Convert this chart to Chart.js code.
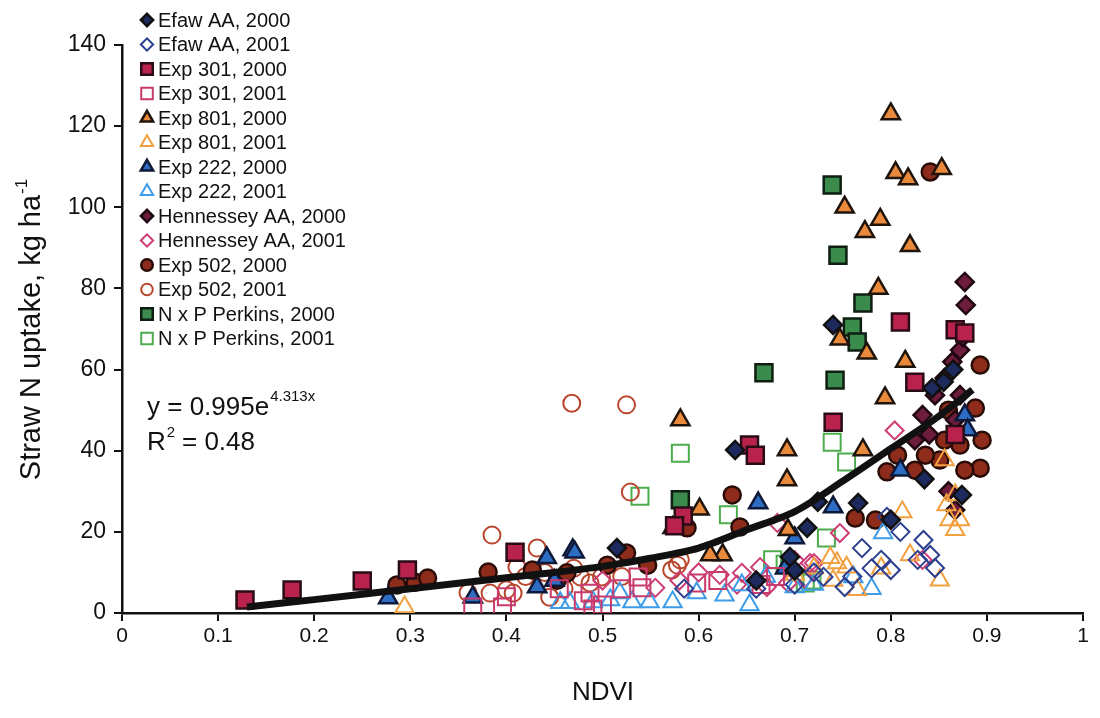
<!DOCTYPE html>
<html>
<head>
<meta charset="utf-8">
<script src="https://cdn.jsdelivr.net/npm/chart.js@4.4.1/dist/chart.umd.min.js"></script>
<style>
    html, body { margin: 0; padding: 0; background: #fff; }
</style>
</head>
<body>
<canvas id="ndviChart" width="1100" height="718"></canvas>
<script>
// ---- data: [NDVI, straw N uptake kg/ha] ----
const efaw2000 = [[0.515,16],[0.638,40.2],[0.740,71],[0.695,13.8],[0.713,21],[0.724,27.4],[0.766,27.1],
    [0.843,55.4],[0.855,57],[0.874,29.1],[0.865,60],[0.835,33],[0.80,23],[0.70,10.5],[0.66,8]];
const efaw2001 = [[0.73,8.9],[0.752,6.4],[0.79,13.1],[0.80,10.6],[0.796,23.7],[0.834,18],[0.841,14.3],
    [0.846,11.1],[0.828,13.1],[0.78,11],[0.76,9],[0.72,10],[0.70,7],[0.66,6],[0.585,6],[0.81,20],[0.77,16]];
const exp301_2000 = [[0.128,3.2],[0.177,5.7],[0.25,7.9],[0.297,10.6],[0.409,15],[0.653,41.4],[0.659,38.9],
    [0.584,23.9],[0.575,21.5],[0.74,47],[0.81,71.7],[0.825,56.9],[0.867,69.8],[0.877,69],[0.867,44]];
const exp301_2001 = [[0.365,1.5],[0.396,1.5],[0.40,4],[0.487,4.9],[0.49,1],[0.537,8.9],[0.541,6.2],[0.598,7.4],
    [0.48,3],[0.50,2],[0.62,8],[0.665,7],[0.68,9],[0.455,6],[0.52,6]];
const exp801_2000 = [[0.80,123],[0.805,108.5],[0.818,107],[0.853,109.5],[0.752,100],[0.789,97],[0.773,94],
    [0.82,90.5],[0.787,80],[0.815,62],[0.747,67.5],[0.775,64],[0.794,53],[0.771,40.2],[0.581,47.6],[0.601,25.6],
    [0.573,21],[0.692,40.2],[0.692,32.8],[0.693,20.5],[0.625,14.3],[0.612,14.3]];
const exp801_2001 = [[0.294,1.5],[0.737,13.6],[0.744,12.3],[0.754,11.3],[0.765,5.7],[0.812,24.9],[0.82,14.3],
    [0.851,8.1],[0.858,26.6],[0.861,22.9],[0.867,20.5],[0.872,22.9],[0.867,29.1],[0.856,37.7],[0.70,9.5],
    [0.72,11],[0.74,8],[0.79,11]];
const exp222_2000 = [[0.277,3.7],[0.365,3.9],[0.432,6.4],[0.442,13.6],[0.469,15.5],[0.471,15],[0.662,27.1],
    [0.70,18.5],[0.74,26.1],[0.81,35.2],[0.877,48.8],[0.88,45.1],[0.45,8],[0.69,11]];
const exp222_2001 = [[0.456,2.5],[0.466,2.5],[0.49,2.7],[0.508,3.2],[0.518,4.9],[0.531,2.7],[0.549,2.7],
    [0.573,2.7],[0.598,4.9],[0.627,4.4],[0.645,6.9],[0.653,2],[0.70,6.4],[0.761,8.9],[0.792,19.7],[0.67,9],
    [0.72,7],[0.78,6]];
const henn2000 = [[0.878,75.9],[0.877,81.6],[0.872,64.8],[0.875,68],[0.864,61.9],[0.856,57.9],[0.872,53.7],
    [0.846,53.7],[0.867,47.6],[0.833,48.8],[0.825,42.6],[0.867,25.4],[0.86,30],[0.84,44]];
const henn2001 = [[0.622,9.4],[0.645,9.9],[0.664,11.3],[0.682,22.2],[0.716,12.3],[0.671,6.4],[0.693,7.4],
    [0.72,12.3],[0.747,19.7],[0.804,45],[0.555,6.2],[0.50,8],[0.58,8],[0.60,10],[0.70,13],[0.71,8.5],
    [0.833,13.1],[0.64,7]];
const exp502_2000 = [[0.286,6.9],[0.305,7.6],[0.318,8.6],[0.381,10.1],[0.427,10.6],[0.453,8.1],[0.463,9.9],
    [0.505,11.8],[0.525,14.8],[0.547,11.8],[0.588,21],[0.635,29.1],[0.643,21.2],[0.763,23.4],[0.784,22.9],
    [0.807,38.9],[0.796,34.8],[0.841,108.7],[0.893,61.1],[0.888,50.5],[0.895,42.6],[0.893,35.7],[0.872,41.4],
    [0.856,42.6],[0.851,37.7],[0.877,35.2],[0.836,38.9],[0.825,35.2],[0.86,50]];
const exp502_2001 = [[0.468,51.7],[0.525,51.3],[0.529,29.8],[0.385,19.2],[0.432,16],[0.411,11.3],[0.383,4.9],
    [0.40,5.7],[0.407,4.9],[0.445,3.9],[0.477,8.9],[0.487,7.4],[0.499,8.9],[0.572,10.6],[0.578,11.8],
    [0.581,13.1],[0.36,5],[0.44,10],[0.42,9],[0.46,6],[0.52,9],[0.47,11]];
const perkins2000 = [[0.739,105.5],[0.745,88.2],[0.771,76.4],[0.76,70.5],[0.765,66.8],[0.668,59.2],
    [0.742,57.4],[0.581,27.9]];
const perkins2001 = [[0.581,39.4],[0.539,28.8],[0.631,24.2],[0.739,42.1],[0.754,37.2],[0.677,13.1],
    [0.711,7.4],[0.733,18.5],[0.718,8.1],[0.69,12]];

// trend line as drawn in the figure
const trendX = [0.13, 0.2, 0.3, 0.4, 0.45, 0.5, 0.55, 0.6, 0.65, 0.7, 0.75, 0.8, 0.85, 0.885];
const trendY = [1.5, 3.3, 6, 8.7, 10, 11.5, 13.5, 16, 20.5, 25, 32.5, 40.5, 48.5, 55];

const xTicks = [0, 0.1, 0.2, 0.3, 0.4, 0.5, 0.6, 0.7, 0.8, 0.9, 1];
const yTicks = [0, 20, 40, 60, 80, 100, 120, 140];

const FONT = '"Liberation Sans", Arial, sans-serif';

function toPts(arr) {
    return arr.map(p => ({ x: p[0], y: p[1] }));
}

// label, values, marker, fill, border, radius
const series = [
    ['Efaw AA, 2000', efaw2000, 'rectRot', '#1d2a5e', '#111111', 9],
    ['Efaw AA, 2001', efaw2001, 'rectRot', 'rgba(0,0,0,0)', '#2c3f8e', 9],
    ['Exp 301, 2000', exp301_2000, 'rect', '#b8224c', '#2a0c16', 12],
    ['Exp 301, 2001', exp301_2001, 'rect', 'rgba(0,0,0,0)', '#c93a6c', 12],
    ['Exp 801, 2000', exp801_2000, 'triangle', '#e8893c', '#1e140c', 10.5],
    ['Exp 801, 2001', exp801_2001, 'triangle', 'rgba(0,0,0,0)', '#f2a040', 10.5],
    ['Exp 222, 2000', exp222_2000, 'triangle', '#2d6ec4', '#0e1838', 10.5],
    ['Exp 222, 2001', exp222_2001, 'triangle', 'rgba(0,0,0,0)', '#3d9ce8', 10.5],
    ['Hennessey AA, 2000', henn2000, 'rectRot', '#6e1c3c', '#200812', 9],
    ['Hennessey AA, 2001', henn2001, 'rectRot', 'rgba(0,0,0,0)', '#cc3d75', 9],
    ['Exp 502, 2000', exp502_2000, 'circle', '#8e2c1c', '#2a0c06', 8.5],
    ['Exp 502, 2001', exp502_2001, 'circle', 'rgba(0,0,0,0)', '#b9462c', 8.5],
    ['N x P Perkins, 2000', perkins2000, 'rect', '#3b8c4c', '#0e1e10', 12],
    ['N x P Perkins, 2001', perkins2001, 'rect', 'rgba(0,0,0,0)', '#4dad4d', 12]
];

const datasets = series.map(s => ({
    label: s[0],
    data: toPts(s[1]),
    pointStyle: s[2],
    backgroundColor: s[3],
    borderColor: s[4],
    pointBackgroundColor: s[3],
    pointBorderColor: s[4],
    pointBorderWidth: s[3] === 'rgba(0,0,0,0)' ? 2 : 2.5,
    pointRadius: s[5],
    pointHoverRadius: s[5],
    order: 2
}));

datasets.push({
    label: 'trend',
    type: 'line',
    data: trendX.map((x, i) => ({ x: x, y: trendY[i] })),
    borderColor: '#111',
    borderWidth: 7,
    pointRadius: 0,
    fill: false,
    tension: 0.3,
    order: 1
});

// legend, equation and axis titles drawn by hand so they sit where the figure has them
const annotations = {
    id: 'annotations',
    afterDraw(chart) {
        const ctx = chart.ctx;
        ctx.save();

        // legend
        ctx.font = '20px ' + FONT;
        ctx.textBaseline = 'middle';
        series.forEach((s, i) => {
            const y = 20 + i * 24.5;
            ctx.fillStyle = s[3];
            ctx.strokeStyle = s[4];
            ctx.lineWidth = s[3] === 'rgba(0,0,0,0)' ? 2 : 2.5;
            Chart.helpers.drawPoint(ctx, {
                pointStyle: s[2], radius: s[5] * 0.68, rotation: 0,
                borderWidth: ctx.lineWidth
            }, 147, y);
            ctx.fillStyle = '#111';
            ctx.fillText(s[0], 158, y + 1);
        });

        // equation
        ctx.textBaseline = 'alphabetic';
        ctx.fillStyle = '#111';
        ctx.font = '26px ' + FONT;
        const eq = 'y = 0.995e';
        ctx.fillText(eq, 147, 415);
        const w1 = ctx.measureText(eq).width;
        ctx.font = '15px ' + FONT;
        ctx.fillText('4.313x', 147 + w1 + 1, 401);
        ctx.font = '26px ' + FONT;
        ctx.fillText('R', 147, 450);
        const w2 = ctx.measureText('R').width;
        ctx.font = '15px ' + FONT;
        ctx.fillText('2', 147 + w2 + 1, 437);
        ctx.font = '26px ' + FONT;
        ctx.fillText(' = 0.48', 147 + w2 + 9, 450);

        // x title
        ctx.textAlign = 'center';
        ctx.font = '26px ' + FONT;
        ctx.fillText('NDVI', 603, 700);

        // y title with superscript
        ctx.translate(40, 330);
        ctx.rotate(-Math.PI / 2);
        ctx.textAlign = 'left';
        const main = 'Straw N uptake, kg ha';
        ctx.font = '29px ' + FONT;
        const wm = ctx.measureText(main).width;
        ctx.font = '17px ' + FONT;
        const ws = ctx.measureText('-1').width;
        const start = -(wm + ws) / 2;
        ctx.font = '29px ' + FONT;
        ctx.fillText(main, start, 0);
        ctx.font = '17px ' + FONT;
        ctx.fillText('-1', start + wm + 1, -13);

        ctx.restore();
    }
};

const ctx = document.getElementById('ndviChart').getContext('2d');
const ndviChart = new Chart(ctx, {
    type: 'scatter',
    data: { datasets: datasets },
    options: {
        responsive: false,
        animation: false,
        devicePixelRatio: 1,
        layout: { padding: { top: 45, right: 17, bottom: 0, left: 0 } },
        plugins: {
            legend: { display: false },
            tooltip: { enabled: false }
        },
        scales: {
            x: {
                type: 'linear',
                min: 0,
                max: 1,
                afterFit: (scale) => { scale.height = 105; },
                afterBuildTicks: (scale) => { scale.ticks = xTicks.map(v => ({ value: v })); },
                ticks: {
                    color: '#111',
                    font: { family: FONT, size: 21 },
                    padding: 3,
                    maxRotation: 0,
                    callback: (v) => String(Math.round(v * 10) / 10)
                },
                grid: { drawOnChartArea: false, color: '#111', lineWidth: 2, tickLength: 8 },
                border: { color: '#111', width: 2.5 }
            },
            y: {
                min: 0,
                max: 140,
                afterFit: (scale) => { scale.width = 122; },
                afterBuildTicks: (scale) => { scale.ticks = yTicks.map(v => ({ value: v })); },
                ticks: {
                    color: '#111',
                    font: { family: FONT, size: 23 },
                    padding: 8
                },
                grid: { drawOnChartArea: false, color: '#111', lineWidth: 2, tickLength: 8 },
                border: { color: '#111', width: 2.5 }
            }
        }
    },
    plugins: [annotations]
});
</script>
</body>
</html>
